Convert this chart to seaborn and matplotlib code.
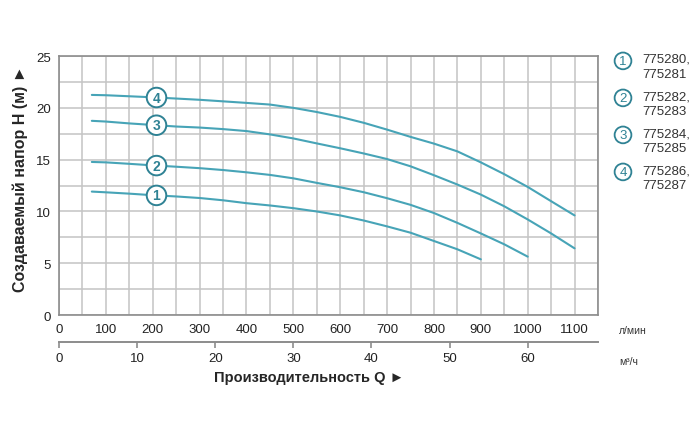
import numpy as np
import pandas as pd
import matplotlib
matplotlib.use("Agg")
import matplotlib.pyplot as plt
import seaborn as sns

# flow, l/min, and head, m
q1 = [70, 100, 150, 200, 250, 300, 350, 400, 450, 500, 550, 600, 650, 700, 750, 800, 850, 900]
h1 = [11.92, 11.85, 11.72, 11.57, 11.45, 11.3, 11.08, 10.8, 10.58, 10.32, 10.0, 9.62, 9.13,
      8.56, 7.95, 7.15, 6.35, 5.38]
q2 = [70, 100, 150, 200, 250, 300, 350, 400, 450, 500, 550, 600, 650, 700, 750, 800, 850, 900,
      950, 1000]
h2 = [14.78, 14.74, 14.6, 14.45, 14.32, 14.18, 14.0, 13.78, 13.53, 13.2, 12.76, 12.34, 11.86,
      11.28, 10.64, 9.85, 8.9, 7.88, 6.83, 5.64]
q3 = [70, 100, 150, 200, 250, 300, 350, 400, 450, 500, 550, 600, 650, 700, 750, 800, 850, 900,
      950, 1000, 1050, 1100]
h3 = [18.75, 18.68, 18.5, 18.35, 18.2, 18.1, 17.95, 17.76, 17.44, 17.05, 16.57, 16.1, 15.6,
      15.06, 14.36, 13.5, 12.6, 11.63, 10.5, 9.23, 7.88, 6.44]
q4 = [70, 100, 150, 200, 250, 300, 350, 400, 450, 500, 550, 600, 650, 700, 750, 800, 850, 900,
      950, 1000, 1050, 1100]
h4 = [21.25, 21.22, 21.12, 21.02, 20.9, 20.78, 20.63, 20.48, 20.32, 20.0, 19.6, 19.13, 18.56,
      17.9, 17.2, 16.55, 15.8, 14.74, 13.6, 12.37, 10.99, 9.62]

curve_ids = ["1", "2", "3", "4"]
models = ["775280,\n775281", "775282,\n775283", "775284,\n775285", "775286,\n775287"]
lmin_ticks = [0, 100, 200, 300, 400, 500, 600, 700, 800, 900, 1000, 1100]
m3h_ticks = [0, 10, 20, 30, 40, 50, 60]
h_ticks = [0, 5, 10, 15, 20, 25]
label_q = 208

line_col = "#47a4b7"
ring_col = "#2f8294"
grid_col = "#c4c4c4"
frame_col = "#8c8c8c"

sns.set_style("white")
plt.rcParams["font.family"] = ["Liberation Sans", "DejaVu Sans"]

df = pd.concat([
    pd.DataFrame({"q": q, "h": h, "curve": c})
    for q, h, c in zip([q1, q2, q3, q4], [h1, h2, h3, h4], curve_ids)
])

fig = plt.figure(figsize=(7, 4.39), dpi=100)
ax = fig.add_axes([0.0843, 0.28, 0.77, 0.59])

sns.lineplot(data=df, x="q", y="h", hue="curve", palette=[line_col] * 4,
             linewidth=1.5, legend=False, sort=False, ax=ax, zorder=3)

ax.set_xlim(0, 1150)
ax.set_ylim(0, 25)
ax.set_xticks(np.arange(0, 1151, 50), minor=True)
ax.set_yticks(np.arange(0, 25.1, 2.5), minor=True)
ax.set_xticks(lmin_ticks)
ax.set_yticks(h_ticks)
ax.grid(True, which="both", color=grid_col, linewidth=1.1)
ax.tick_params(which="both", length=0, labelsize=9.5, colors="#222222")
ax.tick_params(axis="x", pad=6)
ax.tick_params(axis="y", pad=6)
for s in ax.spines.values():
    s.set_color(frame_col)
    s.set_linewidth(1.2)
ax.set_xlabel("")
ax.set_ylabel("Создаваемый напор H (м) ►", fontsize=11.5, fontweight="bold")
ax.yaxis.set_label_coords(-0.058, 0.53)

# circled curve numbers on the lines
for q, h, c in zip([q1, q2, q3, q4], [h1, h2, h3, h4], curve_ids):
    ax.text(label_q, np.interp(label_q, q, h), c, ha="center", va="center",
            fontsize=10, fontweight="bold", color=ring_col, zorder=5,
            bbox=dict(boxstyle="circle,pad=0.2", fc="white", ec=ring_col, lw=1.4))

# second flow scale in m3/h
sec = ax.secondary_xaxis(-0.104, functions=(lambda x: x * 60 / 1000, lambda m: m * 1000 / 60))
sec.set_xticks(m3h_ticks)
sec.tick_params(length=4, width=1.2, labelsize=9.5, pad=3)
sec.tick_params(axis="x", colors=frame_col, labelcolor="#222222")
sec.spines["bottom"].set_color(frame_col)
sec.spines["bottom"].set_linewidth(1.4)

fig.text(0.884, 0.246, "л/мин", fontsize=7.5, color="#333333", va="center")
fig.text(0.884, 0.176, "м³/ч", fontsize=7.5, color="#333333", va="center")
fig.text(0.441, 0.139, "Производительность Q ►", fontsize=10.5, fontweight="bold",
         ha="center", va="center")

# legend on the right
for i, (c, m) in enumerate(zip(curve_ids, models)):
    y = 0.859 - i * 0.0843
    fig.text(0.89, y, c, ha="center", va="center", fontsize=9.5, color=ring_col,
             bbox=dict(boxstyle="circle,pad=0.18", fc="white", ec=ring_col, lw=1.3))
    fig.text(0.917, y + 0.018, m, ha="left", va="top", fontsize=9.5, color="#333333",
             linespacing=1.35)

fig.savefig("out.png", dpi=100)
